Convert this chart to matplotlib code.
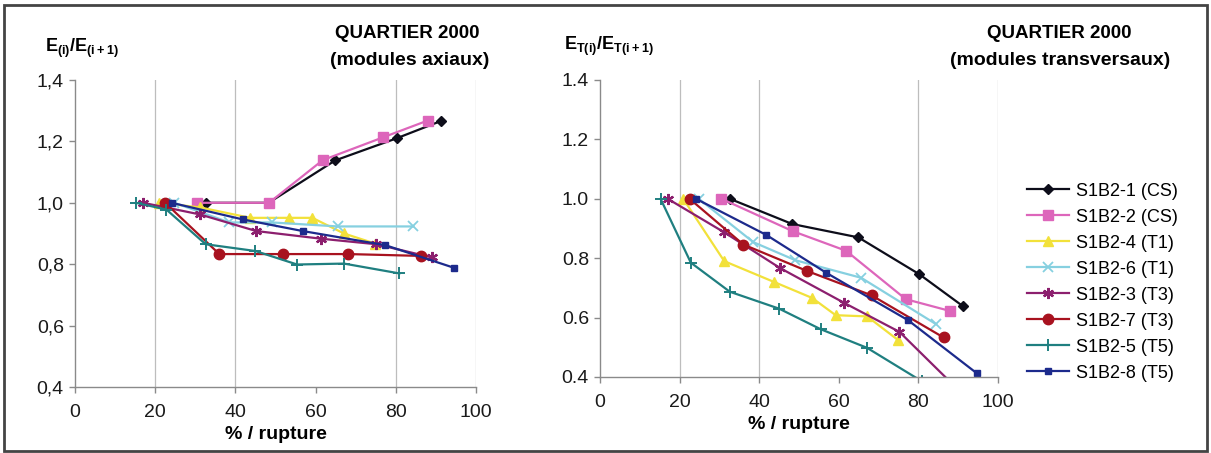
import matplotlib
matplotlib.use('Agg')
import matplotlib.pyplot as plt
from matplotlib.patches import Rectangle
from matplotlib.ticker import FuncFormatter

plt.rcParams['font.family'] = ['Liberation Sans', 'DejaVu Sans']
plt.rcParams['mathtext.fontset'] = 'custom'
plt.rcParams['mathtext.rm'] = 'Liberation Sans'
plt.rcParams['mathtext.bf'] = 'Liberation Sans:bold'

# % of rupture load for each series, and the modulus ratios (axial / transverse)
pct_s1 = [32.6, 48.3, 64.9, 80.2, 91.2]
ax_s1 = [1.000, 1.000, 1.138, 1.210, 1.266]
tr_s1 = [1.000, 0.915, 0.870, 0.746, 0.638]

pct_s2 = [30.5, 48.4, 61.8, 76.8, 88.0]
ax_s2 = [1.000, 1.000, 1.139, 1.213, 1.268]
tr_s2 = [1.000, 0.891, 0.825, 0.662, 0.622]

pct_s4 = [20.9, 31.2, 43.7, 53.3, 59.2, 67.1, 74.9]
ax_s4 = [1.000, 0.985, 0.951, 0.951, 0.951, 0.900, 0.867]
tr_s4 = [1.000, 0.790, 0.720, 0.666, 0.608, 0.604, 0.524]

pct_s6 = [24.8, 38.5, 49.1, 65.6, 84.4]
ax_s6 = [1.000, 0.936, 0.936, 0.923, 0.923]
tr_s6 = [1.000, 0.854, 0.793, 0.734, 0.578]

pct_s3 = [17.0, 31.2, 45.2, 61.4, 75.2, 89.0]
ax_s3 = [1.000, 0.962, 0.908, 0.883, 0.865, 0.822]
tr_s3 = [1.000, 0.887, 0.767, 0.649, 0.552, 0.370]

pct_s7 = [22.5, 36.0, 52.0, 68.2, 86.3]
ax_s7 = [1.000, 0.833, 0.833, 0.833, 0.827]
tr_s7 = [1.000, 0.846, 0.757, 0.675, 0.533]

pct_s5 = [15.2, 22.8, 32.6, 45.0, 55.4, 67.1, 80.9]
ax_s5 = [1.000, 0.978, 0.865, 0.843, 0.799, 0.802, 0.770]
tr_s5 = [1.000, 0.785, 0.687, 0.630, 0.561, 0.498, 0.385]

pct_s8 = [24.1, 41.8, 56.8, 77.4, 94.6]
ax_s8 = [1.000, 0.946, 0.908, 0.862, 0.788]
tr_s8 = [1.000, 0.878, 0.751, 0.591, 0.413]

labels = ['S1B2-1 (CS)', 'S1B2-2 (CS)', 'S1B2-4 (T1)', 'S1B2-6 (T1)',
          'S1B2-3 (T3)', 'S1B2-7 (T3)', 'S1B2-5 (T5)', 'S1B2-8 (T5)']
x_ticks = [0, 20, 40, 60, 80, 100]
y_ticks = [0.4, 0.6, 0.8, 1.0, 1.2, 1.4]
grid_x = [20, 40, 80, 100]

pcts = [pct_s1, pct_s2, pct_s4, pct_s6, pct_s3, pct_s7, pct_s5, pct_s8]
axial = [ax_s1, ax_s2, ax_s4, ax_s6, ax_s3, ax_s7, ax_s5, ax_s8]
transverse = [tr_s1, tr_s2, tr_s4, tr_s6, tr_s3, tr_s7, tr_s5, tr_s8]

styles = [
    dict(color='#0d0d1a', marker='D', ms=5),
    dict(color='#dd66bb', marker='s', ms=6.5),
    dict(color='#f2e13a', marker='^', ms=6.5),
    dict(color='#86d0e0', marker='x', ms=6.5, mew=1.3),
    dict(color='#8c1f6e', marker=(6, 2, 0), ms=8, mew=1.6),
    dict(color='#a8121f', marker='o', ms=7.5),
    dict(color='#1f7f80', marker='+', ms=9, mew=1.4),
    dict(color='#1c2a8c', marker='s', ms=4.5),
]

fig = plt.figure(figsize=(12.11, 4.53), dpi=100)
fig.patches.append(Rectangle((0.003, 0.005), 0.994, 0.985, transform=fig.transFigure,
                             fill=False, edgecolor='#444444', lw=2))

ax1 = fig.add_axes([0.0619, 0.1457, 0.3311, 0.6777])
ax2 = fig.add_axes([0.4955, 0.1678, 0.3287, 0.6556])


def style_axes(ax, comma):
    ax.set_xlim(0, 100)
    ax.set_ylim(0.4, 1.4)
    ax.set_xticks(x_ticks)
    ax.set_yticks(y_ticks)
    for s in ['top', 'right']:
        ax.spines[s].set_visible(False)
    for s in ['left', 'bottom']:
        ax.spines[s].set_color('#8a8a8a')
        ax.spines[s].set_linewidth(1.0)
    for gx in grid_x:
        ax.axvline(gx, color='#bdbdbd', lw=0.9, zorder=0)
    ax.tick_params(axis='both', colors='#8a8a8a', labelcolor='#1a1a1a',
                   labelsize=14, length=4, width=1)
    ax.tick_params(axis='x', pad=8)
    ax.tick_params(axis='y', pad=4)
    if comma:
        ax.yaxis.set_major_formatter(FuncFormatter(lambda v, p: f'{v:.1f}'.replace('.', ',')))
    else:
        ax.yaxis.set_major_formatter(FuncFormatter(lambda v, p: f'{v:.1f}'))
    ax.set_xlabel('% / rupture', fontsize=14, fontweight='bold', labelpad=4)


lines = []
for x, ya, yt, st, lab in zip(pcts, axial, transverse, styles, labels):
    ax1.plot(x, ya, lw=1.6, **st)
    ln, = ax2.plot(x, yt, lw=1.6, label=lab, **st)
    lines.append(ln)

style_axes(ax1, comma=True)
style_axes(ax2, comma=False)

fig.text(0.037, 0.885, r'$\mathbf{E_{(i)}/E_{(i+1)}}$', fontsize=13)
fig.text(0.466, 0.89, r'$\mathbf{E_{T(i)}/E_{T(i+1)}}$', fontsize=13)

fig.text(0.336, 0.925, 'QUARTIER 2000', fontsize=13.5, fontweight='bold', ha='center', va='center')
fig.text(0.338, 0.866, '(modules axiaux)', fontsize=14, fontweight='bold', ha='center', va='center')
fig.text(0.875, 0.925, 'QUARTIER 2000', fontsize=13.5, fontweight='bold', ha='center', va='center')
fig.text(0.875, 0.866, '(modules transversaux)', fontsize=14, fontweight='bold', ha='center', va='center')

fig.legend(handles=lines, loc='center left', bbox_to_anchor=(0.8406, 0.377),
           frameon=False, fontsize=13, handlelength=2.3, handletextpad=0.4,
           labelspacing=0.5, borderpad=0)

fig.savefig('out.png', dpi=100)
